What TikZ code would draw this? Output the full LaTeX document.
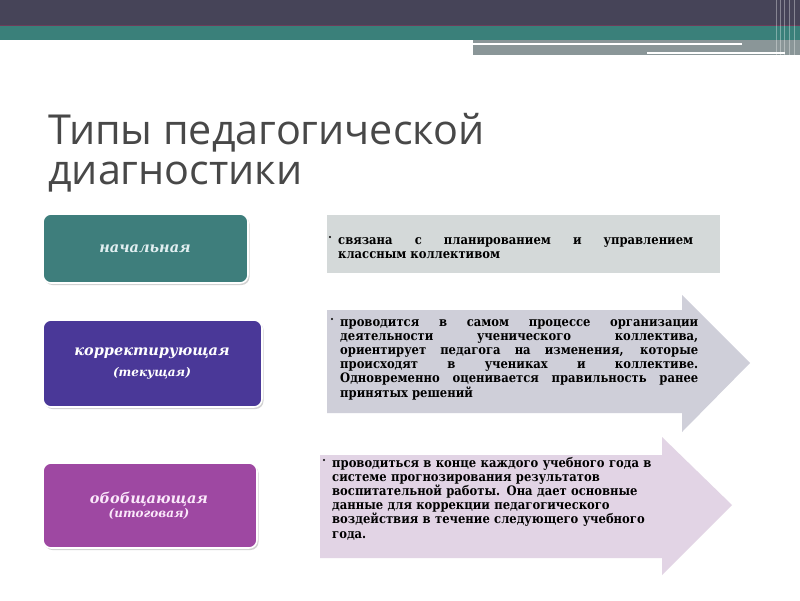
\documentclass[tikz,border=0pt]{standalone}
\usepackage{fontspec}
\setmainfont{DejaVu Serif}
\newfontfamily\titlefont{Open Sans}
\newfontfamily\descfont[FakeStretch=0.89]{DejaVu Serif}
\usetikzlibrary{shadows}
\definecolor{darkband}{RGB}{70,68,88}
\definecolor{redline}{RGB}{110,60,90}
\definecolor{tealband}{RGB}{58,128,122}
\definecolor{graystrip}{RGB}{138,150,152}
\definecolor{titlegray}{RGB}{72,72,72}
\definecolor{boxA}{RGB}{62,126,124}
\definecolor{boxB}{RGB}{74,56,152}
\definecolor{boxC}{RGB}{158,72,162}
\definecolor{arrA}{RGB}{212,217,217}
\definecolor{arrB}{RGB}{207,207,217}
\definecolor{arrC}{RGB}{226,212,229}
\definecolor{txtA}{RGB}{225,238,240}
\definecolor{txtC}{RGB}{250,232,250}
\tikzset{
  typebox/.style={draw=white, line width=1.6pt, rounded corners=8pt, inner sep=0pt,
    drop shadow={shadow xshift=1.5pt, shadow yshift=-2pt, opacity=0.35}},
  boxlabel/.style={font=\fontsize{14.5}{16}\selectfont\bfseries\itshape, inner sep=0pt},
  sublabel/.style={font=\fontsize{12}{13}\selectfont\bfseries\itshape, inner sep=0pt},
  desc/.style={font=\descfont\fontsize{13}{14.2}\selectfont\bfseries, inner sep=0pt, anchor=base west, text=black},
  bulletdot/.style={circle, fill=black, inner sep=0pt, minimum size=2.2pt},
  titletext/.style={font=\titlefont\fontsize{41.3}{42}\selectfont, text=titlegray, inner sep=0pt, anchor=base west}
}
\begin{document}
\begin{tikzpicture}[x=1pt,y=-1pt]
\useasboundingbox (0,0) rectangle (800,600);
\fill[white] (0,0) rectangle (800,600);
% top bands
\fill[darkband] (0,0) rectangle (800,25.5);
\fill[redline] (0,25) rectangle (800,26.2);
\fill[tealband] (0,26.2) rectangle (800,40);
\fill[graystrip] (473,40) rectangle (800,55);
\draw[white, line width=1.3pt] (473,44) -- (742,44);
\draw[white, line width=1.3pt] (647,53) -- (785,53);
\foreach \xx in {776,780,784,789,794} \draw[white, opacity=0.35, line width=0.6pt] (\xx,0) -- (\xx,55);
% title
\node[titletext] (title1) at (48,144) {Типы педагогической};
\node[titletext] (title2) at (48,184) {диагностики};
% arrows
\fill[arrA] (327,215) rectangle (720,273);
\fill[arrB] (327,310) -- (682,310) -- (682,295) -- (750,363) -- (682,432) -- (682,413) -- (327,413) -- cycle;
\fill[arrC] (320,455) -- (662,455) -- (662,437) -- (732,505) -- (662,575) -- (662,558) -- (320,558) -- cycle;
% left boxes
\node[typebox, fill=boxA, minimum width=205pt, minimum height=69pt] (b1) at (145.5,248.5) {};
\node[typebox, fill=boxB, minimum width=219pt, minimum height=87pt] (b2) at (152.5,363.5) {};
\node[typebox, fill=boxC, minimum width=214pt, minimum height=85pt] (b3) at (150,505.5) {};
\node[boxlabel, text=txtA] (l1) at (145,249) {начальная};
\node[boxlabel, text=white] (l2) at (152,353) {корректирующая};
\node[sublabel, text=white] (l2s) at (152,373) {(текущая)};
\node[boxlabel, text=txtC] (l3) at (149,499) {обобщающая};
\node[sublabel, text=txtC] (l3s) at (149,514) {(итоговая)};
% descriptions
\node[bulletdot] (d1) at (330,237) {};
\node[desc, text width=355pt, align=justify] (t1) at (338,244) {связана с планированием и управлением\linebreak классным коллективом};
\node[bulletdot] (d2) at (332,319) {};
\node[desc, text width=358pt, align=justify] (t2) at (340,326) {проводится в самом процессе организации\linebreak деятельности ученического коллектива,\linebreak ориентирует педагога на изменения, которые\linebreak происходят в учениках и коллективе.\linebreak Одновременно оценивается правильность ранее\linebreak принятых решений};
\node[bulletdot] (d3) at (324,460) {};
\node[desc, text width=330pt, align=left] (t3) at (332,467) {проводиться в конце каждого учебного года в\\ системе прогнозирования результатов\\ воспитательной работы. Она дает основные\\ данные для коррекции педагогического\\ воздействия в течение следующего учебного\\ года.};
\end{tikzpicture}
\end{document}
